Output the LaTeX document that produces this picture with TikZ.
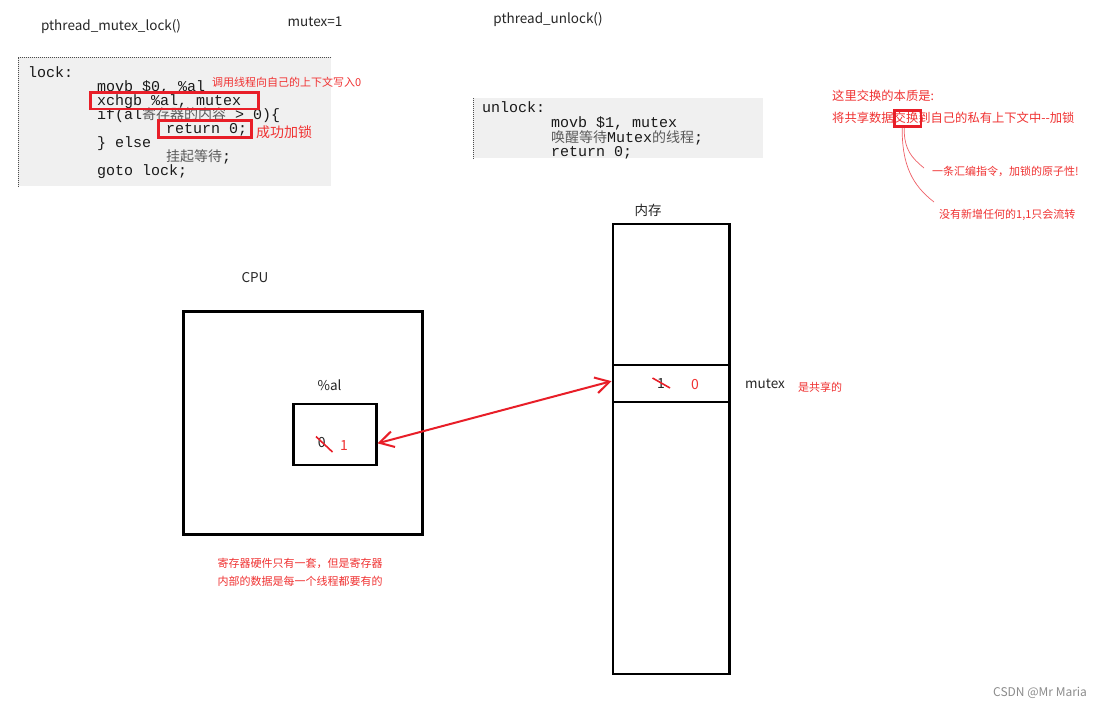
\documentclass[tikz,border=0pt]{standalone}
\usepackage{fontspec}
\setmainfont{Noto Sans CJK SC}
\newfontfamily\cjkf{Noto Sans CJK SC}
\newfontfamily\monof{Liberation Mono}
\usetikzlibrary{arrows.meta}
\definecolor{myred}{RGB}{232,30,40}
\definecolor{redtxt}{RGB}{240,50,50}
\definecolor{codegray}{RGB}{240,240,240}
\definecolor{cjkgray}{RGB}{90,90,90}
\newcommand{\cjg}[1]{{\cjkf\fontsize{14}{14}\selectfont\color{cjkgray}#1}}
\begin{document}
\begin{tikzpicture}[x=1pt,y=-1pt,
  lbl/.style={font=\fontsize{13.5}{13.5}\selectfont, text=black!85, inner sep=0pt},
  code/.style={font=\monof\fontsize{15}{15}\selectfont, anchor=base west, inner sep=0pt, text=black!90},
  rnote/.style={font=\fontsize{11}{11}\selectfont, text=redtxt, inner sep=0pt, anchor=west},
  rnoteb/.style={font=\fontsize{12.3}{12.3}\selectfont, text=redtxt, inner sep=0pt, anchor=west},
  redbox/.style={draw=myred, line width=2.5pt, inner sep=0pt, anchor=north west},
  blkbox/.style={draw=black, line width=2.5pt, inner sep=0pt, anchor=north west},
  codebox/.style={fill=codegray, inner sep=0pt, anchor=north west},
  dotb/.style={draw=black!70, densely dotted, line width=1pt},
  slash/.style={draw=myred, line width=1.6pt},
  thinred/.style={draw=myred!70, line width=0.7pt}
]
\useasboundingbox (0,0) rectangle (1111,707);
\fill[white] (0,0) rectangle (1111,707);

% top titles
\node[lbl] (tlock) at (111,27) {pthread\_mutex\_lock()};
\node[lbl] (tmutex) at (315,22) {mutex=1};
\node[lbl] (tunlock) at (548,20) {pthread\_unlock()};

% lock code box
\node[codebox, minimum width=313pt, minimum height=129pt] (lockbox) at (18,57) {};
\draw[dotb] (lockbox.north east) -- (lockbox.north west) -- (lockbox.south west);
\node[code] (l1) at (28,77) {lock:};
\node[code] (l2) at (97,91) {movb \$0, \%al};
\node[code] (l3) at (97,105) {xchgb \%al, mutex};
\node[code] (l4) at (97,119) {if(al\cjg{寄存器的内容} > 0)\{};
\node[code] (l5) at (166,133) {return 0;};
\node[code] (l6) at (97,147) {\} else};
\node[code] (l7) at (166,161) {\cjg{挂起等待};};
\node[code] (l8) at (97,175) {goto lock;};
\node[redbox, minimum width=168pt, minimum height=16.5pt] (rb1) at (89,91) {};
\node[redbox, minimum width=93pt, minimum height=17pt] (rb2) at (157,119) {};
\node[rnote] (n1) at (212,82) {调用线程向自己的上下文写入0};
\node[rnoteb, font=\fontsize{14}{14}\selectfont] (n2) at (256,132) {成功加锁};

% unlock code box
\node[codebox, minimum width=290pt, minimum height=60pt] (unlockbox) at (473,98) {};
\draw[dotb] (unlockbox.north west) -- (unlockbox.south west);
\node[code] (u1) at (482,112) {unlock:};
\node[code] (u2) at (551,127) {movb \$1, mutex};
\node[code] (u3) at (551,142) {\cjg{唤醒等待}Mutex\cjg{的线程};};
\node[code] (u4) at (551,156.5) {return 0;};

% right annotations
\node[rnoteb] (a1) at (832,96) {这里交换的本质是:};
\node[rnoteb] (a2) at (832,117.5) {将共享数据交换到自己的私有上下文中-{}-加锁};
\node[redbox, minimum width=26.5pt, minimum height=16pt] (jhbox) at (893,109.3) {};
\node[rnote] (a3) at (932,171) {一条汇编指令，加锁的原子性!};
\node[rnote] (a4) at (939,215) {没有新增任何的1,1只会流转};
\coordinate (c1) at (924,168);
\coordinate (c2) at (934,202);
\draw[thinred] (jhbox.-110) .. controls (904,150) and (912,158) .. (c1);
\draw[thinred] (jhbox.-120) .. controls (902,165) and (912,185) .. (c2);

% memory
\node[lbl] (memlbl) at (648,210) {内存};
\node[blkbox, minimum width=116.5pt, minimum height=450pt] (mem) at (611.5,222.5) {};
\node[blkbox, minimum width=116.5pt, minimum height=37pt] (mcell) at (611.5,363.5) {};
\node[lbl, font=\fontsize{14}{14}\selectfont] (one) at (661,383.5) {1};
\draw[slash] (652.5,378) -- (670,388);
\node[lbl, text=redtxt, font=\fontsize{14}{14}\selectfont] (zero) at (695,384.5) {0};
\node[lbl, anchor=west] (mutexlbl) at (745,383.5) {mutex};
\node[rnote] (shared) at (798,387) {是共享的};

% CPU
\node[lbl] (cpulbl) at (255,278) {CPU};
\node[blkbox, minimum width=239pt, minimum height=223pt] (cpu) at (182,310) {};
\node[lbl] (allbl) at (329.5,385) {\%al};
\node[blkbox, minimum width=83pt, minimum height=61pt] (al) at (292,402.5) {};
\node[lbl, font=\fontsize{14}{14}\selectfont] (azero) at (321.7,442.5) {0};
\draw[slash] (316,436.5) -- (332.5,452);
\node[lbl, text=redtxt, font=\fontsize{14}{14}\selectfont] (aone) at (344,445.5) {1};

% exchange arrow
\draw[draw=myred, line width=2pt, {Straight Barb[length=14pt,width=16pt]}-{Straight Barb[length=14pt,width=16pt]}] (al.-12) -- (mcell.178);

% bottom note
\node[rnote] (b1) at (217.5,563.5) {寄存器硬件只有一套，但是寄存器};
\node[rnote] (b2) at (217.5,581.5) {内部的数据是每一个线程都要有的};

\node[lbl, anchor=west, text=black!45, font=\fontsize{12}{12}\selectfont] (csdn) at (993,693) {CSDN @Mr Maria};
\end{tikzpicture}
\end{document}
